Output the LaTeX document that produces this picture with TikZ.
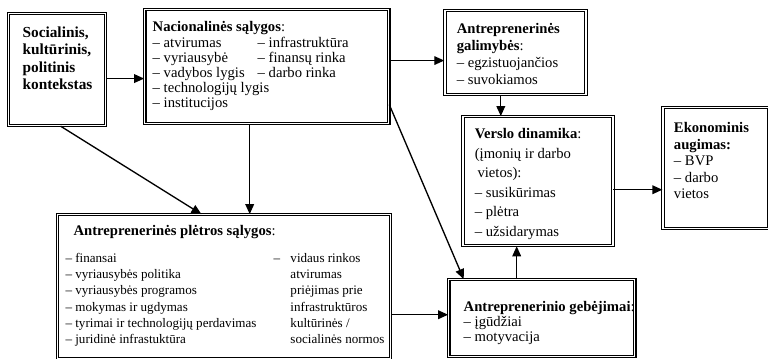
\documentclass[tikz,border=0pt]{standalone}
\usepackage{fontspec}
\setmainfont{Liberation Serif}
\usetikzlibrary{arrows.meta,positioning}

% width, height, left pad, first baseline, text
\newcommand{\panelbody}[5]{%
  \parbox[c][#2][t]{#1}{\raggedright\leftskip=#3\relax\rule{0pt}{#4}#5}}

\begin{document}
\begin{tikzpicture}[
  x=1pt, y=1pt,
  panel/.style={draw, double, line width=0.85pt, double distance=1pt,
                inner sep=0pt, anchor=north west,
                font=\fontsize{11}{11.25}\selectfont},
  arr/.style={-{Triangle[length=7.5pt, width=6.5pt]}, line width=1pt}
]
\useasboundingbox (0,0) rectangle (576,-269.25);

\node[panel, font=\fontsize{11.5}{13}\selectfont\bfseries] (soc) at (6,-9.75)
  {\panelbody{72.75pt}{84pt}{10.5pt}{18pt}{Socialinis,\\kultūrinis,\\politinis\\kontekstas}};

\node[panel, above right=3pt and 28.5pt of soc.north east, anchor=north west] (nat)
  {\panelbody{183pt}{85.5pt}{6pt}{16.5pt}{\textbf{Nacionalinės sąlygos}:\\[0.75pt]
   \makebox[78.75pt][l]{– atvirumas}– infrastruktūra\\
   \makebox[78.75pt][l]{– vyriausybė}– finansų rinka\\
   \makebox[78.75pt][l]{– vadybos lygis}– darbo rinka\\
   – technologijų lygis\\
   – institucijos}};

\node[panel, below right=0.75pt and 41.25pt of nat.north east, anchor=north west,
      font=\fontsize{11}{12.75}\selectfont] (opp)
  {\panelbody{105.75pt}{63pt}{9pt}{17pt}{\textbf{Antreprenerinės}\\\textbf{galimybės}:\\
   – egzistuojančios\\– suvokiamos}};

\node[panel, below right=15.75pt and 13.5pt of opp.south west, anchor=north west,
      font=\fontsize{11}{14.6}\selectfont] (dyn)
  {\panelbody{112.5pt}{96.75pt}{9pt}{16.5pt}{\textbf{Verslo dinamika}:\\
   (įmonių ir darbo\\\hspace*{2pt}vietos):\\– susikūrimas\\– plėtra\\– užsidarymas}};

\node[panel, above right=6.75pt and 36.75pt of dyn.north east, anchor=north west,
      font=\fontsize{11}{12.4}\selectfont] (eco)
  {\panelbody{79.5pt}{90.75pt}{8.25pt}{18.75pt}{\textbf{Ekonominis}\\\textbf{augimas:}\\
   – BVP\\– darbo\\vietos}};

\node[panel, below right=66pt and 36.75pt of soc.south west, anchor=north west,
      font=\fontsize{9.8}{12.2}\selectfont] (dev)
  {\panelbody{249.75pt}{108pt}{6pt}{15.75pt}{\hspace*{6pt}{\fontsize{11}{12.2}\selectfont
   \textbf{Antreprenerinės plėtros sąlygos}:}\\[7.8pt]
   \begin{minipage}[t]{156pt}
   – finansai\\– vyriausybės politika\\– vyriausybės programos\\
   – mokymas ir ugdymas\\– tyrimai ir technologijų perdavimas\\
   – juridinė infrastuktūra
   \end{minipage}%
   \begin{tabular}[t]{@{}l@{\hspace{7.8pt}}l@{}}
   – & vidaus rinkos\\ & atvirumas\\ & priėjimas prie\\
     & infrastruktūros\\ & kultūrinės /\\ & socialinės normos
   \end{tabular}}};

\node[panel, above right=1.5pt and 42.75pt of dev.south east, anchor=south west] (cap)
  {\panelbody{139.5pt}{57.75pt}{11.25pt}{24pt}{\textbf{Antreprenerinio gebėjimai}:\\
   – įgūdžiai\\– motyvacija}};

\draw[arr] ([yshift=-6.75pt]soc.east) -- ([yshift=-6.75pt]soc.east -| nat.west);
\draw[arr] ([yshift=4.5pt]nat.east) -- ([yshift=4.5pt]nat.east -| opp.west);
\draw[arr] ([xshift=-10.9pt]opp.south) -- ([xshift=-10.9pt]opp.south |- dyn.north);
\draw[arr] ([xshift=-12.75pt]nat.south) -- ([xshift=-12.75pt]nat.south |- dev.north);
\draw[arr] ([xshift=2.6pt]soc.south) -- ([xshift=-17pt]dev.north);
\draw[arr] ([yshift=-28.5pt]nat.east) -- ([xshift=-58.5pt]cap.north);
\draw[arr] ([yshift=2.6pt]cap.west -| dev.east) -- ([yshift=2.6pt]cap.west);
\draw[arr] ([xshift=-18.75pt]cap.north) -- ([xshift=-18.75pt]cap.north |- dyn.south);
\draw[arr] ([yshift=-6.4pt]dyn.east) -- ([yshift=-6.4pt]dyn.east -| eco.west);
\end{tikzpicture}
\end{document}
